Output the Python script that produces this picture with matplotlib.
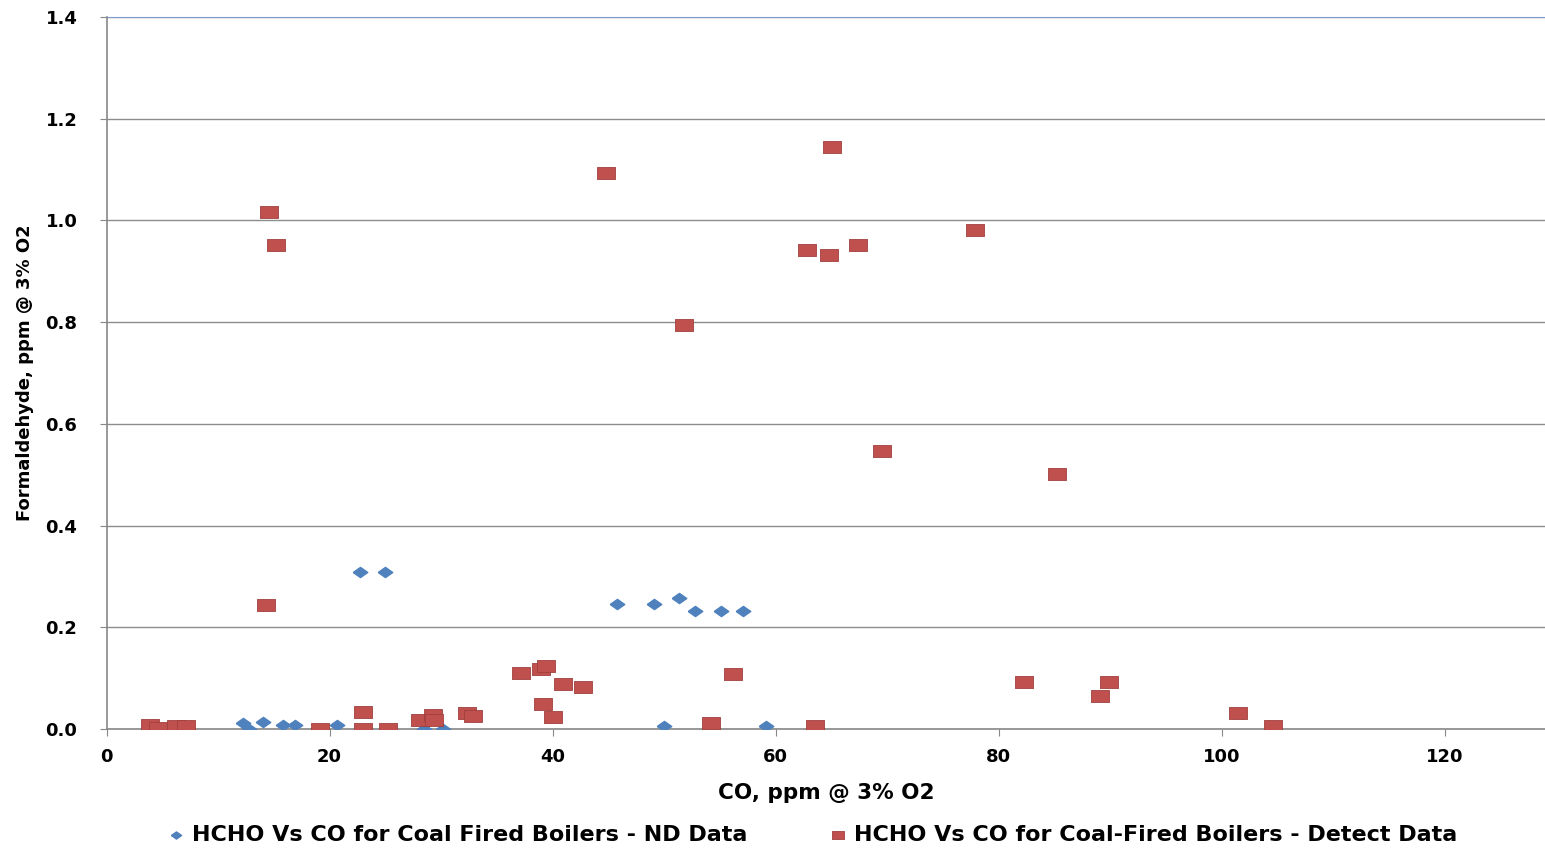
import matplotlib.pyplot as plt

# HCHO vs CO, coal fired boilers - non-detect data
nd_co = [12.2, 12.8, 14.0, 15.8, 16.9, 20.7, 22.7, 25.0, 28.5, 30.2,
         45.8, 49.1, 51.3, 52.8, 55.1, 57.1, 50.0, 59.1]
nd_hcho = [0.012, 0.001, 0.014, 0.008, 0.008, 0.008, 0.308, 0.308, 0.001, 0.001,
           0.245, 0.245, 0.257, 0.232, 0.232, 0.232, 0.005, 0.005]

# HCHO vs CO, coal-fired boilers - detect data
det_co = [3.9, 4.6, 6.2, 7.1, 14.3, 14.6, 15.2, 19.1, 23.0, 23.0, 25.2,
          28.1, 29.3, 29.4, 32.3, 32.9, 37.2, 39.0, 39.4, 39.1, 40.0, 40.9, 42.7,
          44.8, 51.8, 54.2, 56.2, 62.8, 63.5, 64.8, 65.1, 67.4, 69.5, 77.9,
          82.3, 85.2, 89.1, 89.9, 101.5, 104.6]
det_hcho = [0.008, 0.003, 0.005, 0.006, 0.244, 1.016, 0.952, 0.0, 0.034, 0.0, 0.0,
            0.018, 0.027, 0.018, 0.031, 0.026, 0.110, 0.119, 0.123, 0.049, 0.024, 0.088, 0.083,
            1.093, 0.794, 0.012, 0.109, 0.942, 0.005, 0.932, 1.144, 0.952, 0.547, 0.981,
            0.093, 0.501, 0.065, 0.093, 0.031, 0.005]

blue = '#4F81BD'
red = '#C0504D'
square = [(-1, -0.7), (1, -0.7), (1, 0.7), (-1, 0.7), (-1, -0.7)]
diamond = [(-1, 0), (0, 0.7), (1, 0), (0, -0.7), (-1, 0)]

plt.rcParams['font.family'] = 'DejaVu Sans'
plt.rcParams['font.weight'] = 'bold'

fig = plt.figure(figsize=(15.45, 8.49), dpi=100)
ax = fig.add_axes([0.069, 0.1413, 0.931, 0.8387])

ax.scatter(nd_co, nd_hcho, marker=diamond, s=110, color=blue, zorder=3,
           label='HCHO Vs CO for Coal Fired Boilers - ND Data')
ax.scatter(det_co, det_hcho, marker=square, s=150, color=red, edgecolor='#A0403D',
           linewidth=0.6, zorder=3,
           label='HCHO Vs CO for Coal-Fired Boilers - Detect Data')

ax.set_xlim(0, 129)
ax.set_ylim(0, 1.4)
ax.set_xticks([0, 20, 40, 60, 80, 100, 120])
ax.set_yticks([0.0, 0.2, 0.4, 0.6, 0.8, 1.0, 1.2, 1.4])
ax.set_yticklabels(['0.0', '0.2', '0.4', '0.6', '0.8', '1.0', '1.2', '1.4'])
ax.grid(axis='y', color='#8c8c8c', linewidth=1)
ax.set_axisbelow(True)

ax.spines['right'].set_visible(False)
ax.spines['top'].set_color('#7f9fcf')
ax.spines['left'].set_color('#888888')
ax.spines['bottom'].set_color('#888888')
ax.spines['left'].set_linewidth(1.2)
ax.spines['bottom'].set_linewidth(1.2)

ax.tick_params(axis='y', length=5, color='#888888', pad=16, labelsize=13)
ax.tick_params(axis='x', length=5, color='#888888', pad=9, labelsize=13)

ax.set_xlabel('CO, ppm @ 3% O2', fontsize=15.5, fontweight='bold')
ax.set_ylabel('Formaldehyde, ppm @ 3% O2', fontsize=13, fontweight='bold')
ax.xaxis.set_label_coords(0.5, -0.09)
ax.yaxis.set_label_coords(-0.057, 0.5)
ax.xaxis.label.set_verticalalignment('center')
ax.yaxis.label.set_verticalalignment('center')

fig.legend(loc='center', bbox_to_anchor=(0.525, 0.017), ncol=2, frameon=False,
           fontsize=16, handletextpad=0.2, handlelength=1.0, columnspacing=3.6,
           markerscale=0.7, borderpad=0)

fig.savefig('out.png', dpi=100)
